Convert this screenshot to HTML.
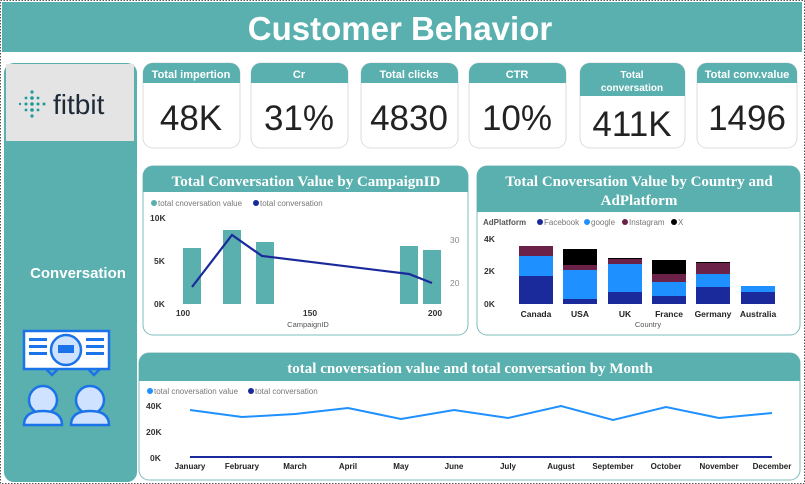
<!DOCTYPE html>
<html><head><meta charset="utf-8"><style>
body{margin:0;background:#fff;width:805px;height:484px;overflow:hidden}
svg{display:block}
.s{font-family:"Liberation Sans",sans-serif}
.serif{font-family:"Liberation Serif",serif;font-weight:bold}
</style></head><body>
<svg width="805" height="484" class="s">
<rect x="0" y="0" width="805" height="484" fill="#fff"/>
<rect x="2" y="2" width="800" height="50" fill="#5aafaf"/>
<text x="400" y="40" text-anchor="middle" font-size="33" font-weight="bold" fill="#fff">Customer Behavior</text>
<!-- left panel -->
<rect x="4" y="63" width="133" height="419" rx="10" fill="#5aafaf"/>
<rect x="6" y="64" width="128" height="77" fill="#e4e4e4"/>
<g fill="#1a9a9a">
<circle cx="32" cy="92" r="1.6"/><circle cx="32" cy="98" r="1.8"/><circle cx="32" cy="104" r="1.8"/><circle cx="32" cy="110" r="1.8"/><circle cx="32" cy="116" r="1.6"/>
<circle cx="26" cy="98" r="1.4"/><circle cx="26" cy="104" r="1.5"/><circle cx="26" cy="110" r="1.4"/><circle cx="20" cy="104" r="1.2"/>
<circle cx="38" cy="98" r="1.4"/><circle cx="38" cy="104" r="1.5"/><circle cx="38" cy="110" r="1.4"/><circle cx="44" cy="104" r="1.5"/>
</g>
<text x="53" y="114" font-size="28" fill="#1e2a38">fitbit</text>
<text x="78" y="278" text-anchor="middle" font-size="15" font-weight="bold" fill="#fff">Conversation</text>
<!-- icon -->
<g stroke="#1a73e8" stroke-width="2.5" fill="#fff">
<rect x="24" y="331" width="85" height="38"/>
<circle cx="66" cy="350" r="15" fill="#cfe2ff"/>
<path d="M46 369 l6 6 l6 -6 M88 369 l6 6 l6 -6" fill="none"/>
<circle cx="43" cy="400" r="14" fill="#cfe2ff"/><circle cx="90" cy="400" r="14" fill="#cfe2ff"/>
<path d="M24 425 q0-14 19-14 q19 0 19 14Z M71 425 q0-14 19-14 q19 0 19 14Z" fill="#cfe2ff"/>
</g>
<g fill="#1a73e8"><rect x="29" y="338" width="18" height="3"/><rect x="29" y="345" width="18" height="3"/><rect x="29" y="352" width="18" height="3"/><rect x="86" y="338" width="18" height="3"/><rect x="86" y="345" width="18" height="3"/><rect x="86" y="352" width="18" height="3"/><rect x="58" y="345" width="16" height="8"/></g>
<!-- KPI cards -->
<g>
<g id="k">
</g>
</g>
<g font-weight="bold" font-size="11" fill="#fff" text-anchor="middle">
<rect x="143" y="63" width="97" height="85" rx="10" fill="#fff" stroke="#ddd" filter=""/>
<path d="M143 83 v-10 a10 10 0 0 1 10 -10 h77 a10 10 0 0 1 10 10 v10z" fill="#5aafaf"/>
<text x="191" y="78">Total impertion</text>
<rect x="251" y="63" width="97" height="85" rx="10" fill="#fff" stroke="#ddd"/>
<path d="M251 83 v-10 a10 10 0 0 1 10 -10 h77 a10 10 0 0 1 10 10 v10z" fill="#5aafaf"/>
<text x="299" y="78">Cr</text>
<rect x="361" y="63" width="97" height="85" rx="10" fill="#fff" stroke="#ddd"/>
<path d="M361 83 v-10 a10 10 0 0 1 10 -10 h77 a10 10 0 0 1 10 10 v10z" fill="#5aafaf"/>
<text x="409" y="78">Total clicks</text>
<rect x="469" y="63" width="97" height="85" rx="10" fill="#fff" stroke="#ddd"/>
<path d="M469 83 v-10 a10 10 0 0 1 10 -10 h77 a10 10 0 0 1 10 10 v10z" fill="#5aafaf"/>
<text x="517" y="78">CTR</text>
<rect x="580" y="63" width="105" height="85" rx="10" fill="#fff" stroke="#ddd"/>
<path d="M580 96 v-23 a10 10 0 0 1 10 -10 h85 a10 10 0 0 1 10 10 v23z" fill="#5aafaf"/>
<text x="632" y="78" font-size="10">Total</text><text x="632" y="91" font-size="10">conversation</text>
<rect x="697" y="63" width="100" height="85" rx="10" fill="#fff" stroke="#ddd"/>
<path d="M697 83 v-10 a10 10 0 0 1 10 -10 h80 a10 10 0 0 1 10 10 v10z" fill="#5aafaf"/>
<text x="747" y="78">Total conv.value</text>
</g>
<g font-size="35" fill="#222" text-anchor="middle">
<text x="191" y="130">48K</text><text x="299" y="130">31%</text><text x="409" y="130">4830</text><text x="517" y="130">10%</text><text x="632" y="136">411K</text><text x="747" y="130">1496</text>
</g>
<!-- Chart 1 -->
<rect x="143" y="166" width="325" height="169" rx="10" fill="#fff" stroke="#7fbcbc"/>
<path d="M143 192 v-16 a10 10 0 0 1 10 -10 h305 a10 10 0 0 1 10 10 v16z" fill="#5aafaf"/>
<text x="306" y="186" text-anchor="middle" class="serif" font-size="15" fill="#fff">Total Conversation Value by CampaignID</text>
<circle cx="154" cy="203" r="3" fill="#5aafaf"/><text x="158" y="206" font-size="8" fill="#777">total cnoversation value</text>
<circle cx="256" cy="203" r="3" fill="#1a2a9a"/><text x="260" y="206" font-size="8" fill="#777">total conversation</text>
<g font-size="8.5" font-weight="bold" fill="#333"><text x="150" y="221">10K</text><text x="154" y="264">5K</text><text x="154" y="307">0K</text>
<text x="183" y="316" text-anchor="middle">100</text><text x="310" y="316" text-anchor="middle">150</text><text x="435" y="316" text-anchor="middle">200</text></g>
<g font-size="8.5" fill="#888"><text x="450" y="243">30</text><text x="450" y="286">20</text></g>
<text x="308" y="327" text-anchor="middle" font-size="7.5" fill="#555">CampaignID</text>
<g fill="#5aafaf"><rect x="183" y="248" width="18" height="56"/><rect x="223" y="230" width="18" height="74"/><rect x="256" y="242" width="18" height="62"/><rect x="400" y="246" width="18" height="58"/><rect x="423" y="250" width="18" height="54"/></g>
<polyline points="192,287 232,235 262,256 409,274 432,283" fill="none" stroke="#1a2a9a" stroke-width="2.2"/>
<!-- Chart 2 -->
<rect x="477" y="166" width="323" height="169" rx="10" fill="#fff" stroke="#7fbcbc"/>
<path d="M477 212 v-36 a10 10 0 0 1 10 -10 h303 a10 10 0 0 1 10 10 v36z" fill="#5aafaf"/>
<text x="639" y="186" text-anchor="middle" class="serif" font-size="15" fill="#fff">Total Cnoversation Value by Country and</text>
<text x="639" y="205" text-anchor="middle" class="serif" font-size="15" fill="#fff">AdPlatform</text>
<text x="483" y="225" font-size="8" font-weight="bold" fill="#555">AdPlatform</text>
<circle cx="540" cy="222" r="3" fill="#1a2a9a"/><text x="544" y="225" font-size="8" fill="#777">Facebook</text>
<circle cx="587" cy="222" r="3" fill="#1e90ff"/><text x="591" y="225" font-size="8" fill="#777">google</text>
<circle cx="625" cy="222" r="3" fill="#6b2148"/><text x="629" y="225" font-size="8" fill="#777">Instagram</text>
<circle cx="674" cy="222" r="3" fill="#000"/><text x="678" y="225" font-size="8" fill="#777">X</text>
<g font-size="8.5" font-weight="bold" fill="#333"><text x="484" y="242">4K</text><text x="484" y="274">2K</text><text x="484" y="307">0K</text></g>
<g font-size="8.5" font-weight="bold" fill="#222" text-anchor="middle"><text x="536" y="317">Canada</text><text x="580" y="317">USA</text><text x="625" y="317">UK</text><text x="669" y="317">France</text><text x="713" y="317">Germany</text><text x="758" y="317">Australia</text></g>
<text x="648" y="327" text-anchor="middle" font-size="7.5" fill="#555">Country</text>
<g>
<rect x="519" y="276" width="34" height="28" fill="#1a2a9a"/><rect x="519" y="256" width="34" height="20" fill="#1e90ff"/><rect x="519" y="246" width="34" height="10" fill="#6b2148"/>
<rect x="563" y="299" width="34" height="5" fill="#1a2a9a"/><rect x="563" y="270" width="34" height="29" fill="#1e90ff"/><rect x="563" y="265" width="34" height="5" fill="#6b2148"/><rect x="563" y="249" width="34" height="16" fill="#000"/>
<rect x="608" y="292" width="34" height="12" fill="#1a2a9a"/><rect x="608" y="264" width="34" height="28" fill="#1e90ff"/><rect x="608" y="259" width="34" height="5" fill="#6b2148"/><rect x="608" y="258" width="34" height="1" fill="#000"/>
<rect x="652" y="296" width="34" height="8" fill="#1a2a9a"/><rect x="652" y="282" width="34" height="14" fill="#1e90ff"/><rect x="652" y="274" width="34" height="8" fill="#6b2148"/><rect x="652" y="260" width="34" height="14" fill="#000"/>
<rect x="696" y="287" width="34" height="17" fill="#1a2a9a"/><rect x="696" y="274" width="34" height="13" fill="#1e90ff"/><rect x="696" y="263" width="34" height="11" fill="#6b2148"/><rect x="696" y="262" width="34" height="1" fill="#000"/>
<rect x="741" y="292" width="34" height="12" fill="#1a2a9a"/><rect x="741" y="286" width="34" height="6" fill="#1e90ff"/>
</g>
<!-- Chart 3 -->
<rect x="139" y="353" width="661" height="127" rx="10" fill="#fff" stroke="#7fbcbc"/>
<path d="M139 381 v-18 a10 10 0 0 1 10 -10 h641 a10 10 0 0 1 10 10 v18z" fill="#5aafaf"/>
<text x="470" y="373" text-anchor="middle" class="serif" font-size="15" fill="#fff">total cnoversation value and total conversation by Month</text>
<circle cx="150" cy="391" r="3" fill="#1e90ff"/><text x="154" y="394" font-size="8" fill="#777">total cnoversation value</text>
<circle cx="251" cy="391" r="3" fill="#1a2a9a"/><text x="255" y="394" font-size="8" fill="#777">total conversation</text>
<g font-size="8.5" font-weight="bold" fill="#333"><text x="146" y="409">40K</text><text x="146" y="435">20K</text><text x="150" y="461">0K</text></g>
<g font-size="8" font-weight="bold" fill="#222" text-anchor="middle">
<text x="190" y="469">January</text><text x="242" y="469">February</text><text x="295" y="469">March</text><text x="348" y="469">April</text><text x="401" y="469">May</text><text x="454" y="469">June</text><text x="508" y="469">July</text><text x="561" y="469">August</text><text x="613" y="469">September</text><text x="666" y="469">October</text><text x="719" y="469">November</text><text x="772" y="469">December</text></g>
<polyline points="190,410 242,417 295,414 348,408 401,419 454,410 508,418 561,406 613,420 666,407 719,418 772,413" fill="none" stroke="#1e90ff" stroke-width="2"/>
<line x1="190" y1="457" x2="772" y2="457" stroke="#1a2a9a" stroke-width="2"/>
<rect x="0.5" y="0.5" width="804" height="483" fill="none" stroke="#555" stroke-dasharray="1.5 1.5"/>
</svg>
</body></html>
